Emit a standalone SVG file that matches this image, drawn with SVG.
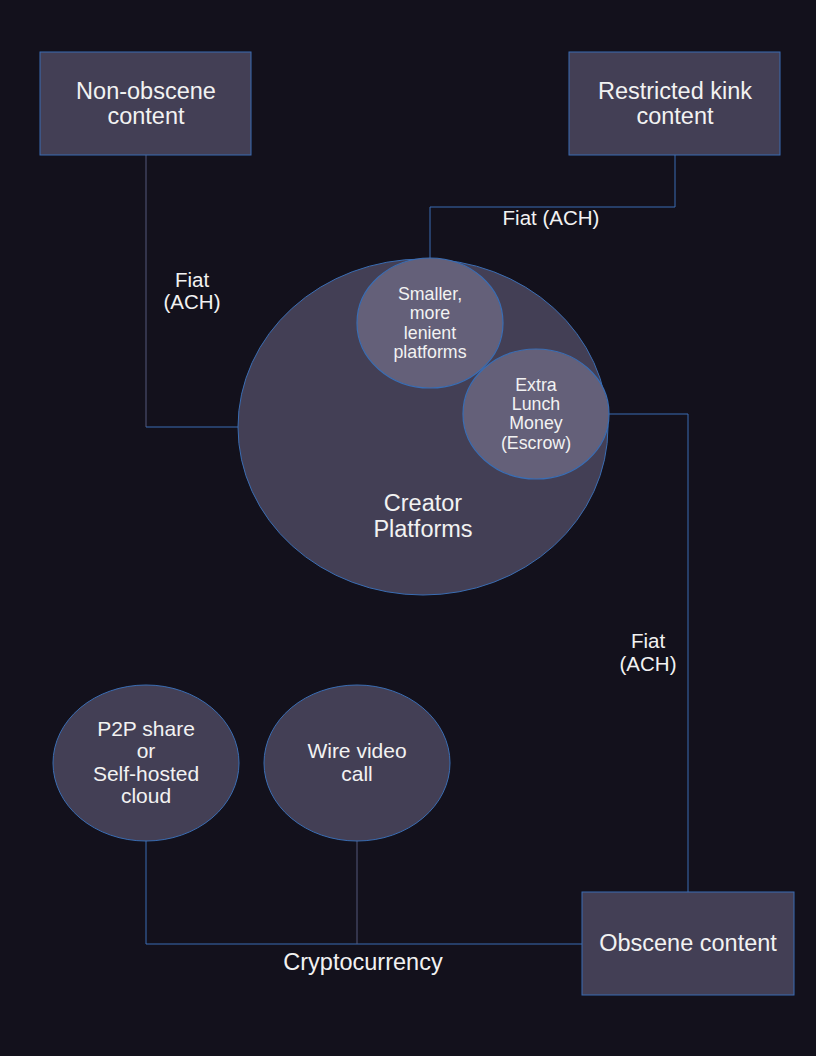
<svg xmlns="http://www.w3.org/2000/svg" width="816" height="1056" viewBox="0 0 816 1056">
<style>
.bg{fill:#13111c}
.node{fill:#433f55;stroke:#3a6db3;stroke-width:1}
.inner{fill:#646079;stroke:#3a6db3;stroke-width:1.2}
.edge{fill:none;stroke:#3a6db3;stroke-width:1}
.edge2{fill:none;stroke:#55597a;stroke-width:1}
text{font-family:"Liberation Sans",Arial,sans-serif;fill:#f2f2f2;text-anchor:middle}
.t23{font-size:23.5px}
.t17{font-size:17.8px}
.t20{font-size:20.5px}
.t21{font-size:21px}
</style>
<rect class="bg" x="0" y="0" width="816" height="1056"/>
<g id="connectors">
  <path class="edge2" d="M146,155 V427"/>
  <path class="edge" d="M146,427 H238"/>
  <path class="edge" d="M675,155 V207 H430 V258"/>
  <path class="edge" d="M688,892 V414 H609"/>
  <path class="edge" d="M146,841 V944 H582"/>
  <path class="edge2" d="M357,841 V944"/>
  <text class="t20" x="192" y="287">Fiat</text>
  <text class="t20" x="192" y="309">(ACH)</text>
  <text class="t20" x="551" y="225">Fiat (ACH)</text>
  <text class="t20" x="648" y="648">Fiat</text>
  <text class="t20" x="648" y="671">(ACH)</text>
  <text class="t23" x="363" y="970">Cryptocurrency</text>
</g>
<g id="non-obscene">
  <rect class="node" x="40" y="52" width="211" height="103"/>
  <text class="t23" x="146" y="99">Non-obscene</text>
  <text class="t23" x="146" y="124">content</text>
</g>
<g id="restricted-kink">
  <rect class="node" x="569" y="52" width="211" height="103"/>
  <text class="t23" x="675" y="99">Restricted kink</text>
  <text class="t23" x="675" y="124">content</text>
</g>
<g id="creator-platforms">
  <ellipse class="node" cx="423" cy="427" rx="185" ry="168"/>
  <text class="t23" x="423" y="511">Creator</text>
  <text class="t23" x="423" y="537">Platforms</text>
</g>
<g id="smaller-platforms">
  <ellipse class="inner" cx="430" cy="323" rx="73" ry="65"/>
  <text class="t17" x="430" y="300">Smaller,</text>
  <text class="t17" x="430" y="319">more</text>
  <text class="t17" x="430" y="339">lenient</text>
  <text class="t17" x="430" y="358">platforms</text>
</g>
<g id="extra-lunch-money">
  <ellipse class="inner" cx="536" cy="414" rx="73" ry="65"/>
  <text class="t17" x="536" y="391">Extra</text>
  <text class="t17" x="536" y="410">Lunch</text>
  <text class="t17" x="536" y="429">Money</text>
  <text class="t17" x="536" y="449">(Escrow)</text>
</g>
<g id="p2p-share">
  <ellipse class="node" cx="146" cy="763" rx="93" ry="78"/>
  <text class="t21" x="146" y="736">P2P share</text>
  <text class="t21" x="146" y="758">or</text>
  <text class="t21" x="146" y="781">Self-hosted</text>
  <text class="t21" x="146" y="803">cloud</text>
</g>
<g id="wire-video-call">
  <ellipse class="node" cx="357" cy="763" rx="93" ry="78"/>
  <text class="t21" x="357" y="758">Wire video</text>
  <text class="t21" x="357" y="781">call</text>
</g>
<g id="obscene">
  <rect class="node" x="582" y="892" width="212" height="103"/>
  <text class="t23" x="688" y="951">Obscene content</text>
</g>
</svg>
